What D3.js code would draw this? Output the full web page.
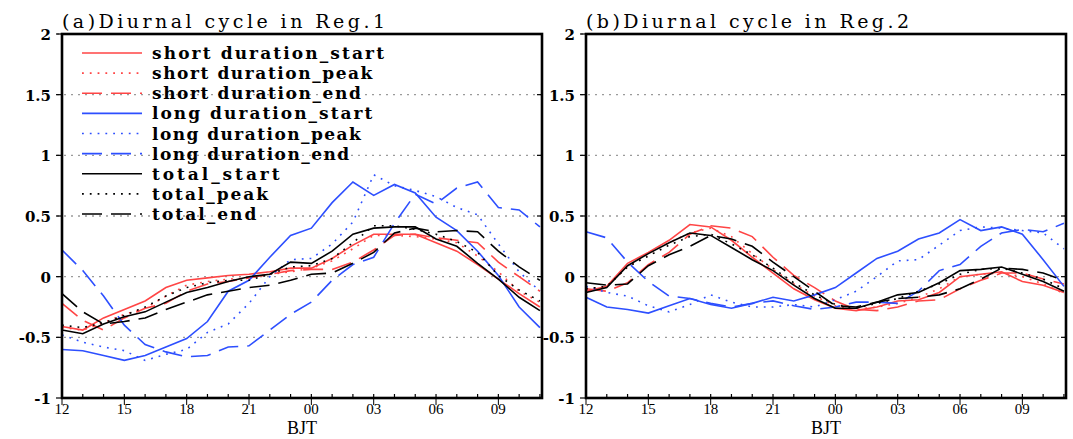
<!DOCTYPE html>
<html>
<head>
<meta charset="utf-8">
<script src="https://cdn.jsdelivr.net/npm/d3@7"></script>
<style>
  body { margin: 0; background: #fff; }
</style>
</head>
<body>
<div id="chart"></div>
<script>
// hours along the x axis (BJT), 12 .. 11 next day
var hours = d3.range(24);
var xTickPos = [0, 3, 6, 9, 12, 15, 18, 21];
var xTickLabels = ["12", "15", "18", "21", "00", "03", "06", "09"];
var yTicks = [-1, -0.5, 0, 0.5, 1, 1.5, 2];
var yTickLabels = ["-1", "-0.5", "0", "0.5", "1", "1.5", "2"];

var seriesNames = ["short duration_start", "short duration_peak", "short duration_end",
                   "long duration_start", "long duration_peak", "long duration_end",
                   "total_start", "total_peak", "total_end"];

// Reg.1
var reg1ShortStart = [-0.41,-0.44,-0.34,-0.27,-0.20,-0.09,-0.03,-0.01,0.01,0.02,0.04,0.07,0.07,0.15,0.26,0.35,0.35,0.35,0.28,0.21,0.10,-0.02,-0.14,-0.25];
var reg1ShortPeak  = [-0.42,-0.44,-0.38,-0.31,-0.26,-0.16,-0.07,-0.04,-0.02,-0.01,0.02,0.04,0.07,0.13,0.23,0.34,0.34,0.33,0.31,0.28,0.17,0.04,-0.12,-0.21];
var reg1ShortEnd   = [-0.22,-0.36,-0.44,-0.34,-0.26,-0.22,-0.12,-0.06,-0.04,-0.01,0.02,0.05,0.06,0.06,0.12,0.22,0.34,0.35,0.32,0.30,0.28,0.12,0.00,-0.12];
var reg1LongStart  = [-0.60,-0.61,-0.65,-0.69,-0.65,-0.58,-0.51,-0.37,-0.12,-0.03,0.16,0.34,0.40,0.61,0.78,0.67,0.76,0.69,0.49,0.38,0.21,0.01,-0.25,-0.42];
var reg1LongPeak   = [-0.48,-0.54,-0.58,-0.61,-0.69,-0.64,-0.60,-0.46,-0.39,-0.22,0.00,0.14,0.15,0.27,0.45,0.84,0.75,0.71,0.66,0.57,0.51,0.27,0.04,-0.12];
var reg1LongEnd    = [0.22,0.05,-0.16,-0.40,-0.56,-0.62,-0.66,-0.65,-0.58,-0.57,-0.44,-0.31,-0.21,-0.03,0.10,0.16,0.44,0.68,0.60,0.73,0.78,0.57,0.55,0.41];
var reg1TotalStart = [-0.44,-0.47,-0.39,-0.33,-0.29,-0.21,-0.13,-0.09,-0.04,0.00,0.02,0.12,0.11,0.21,0.35,0.40,0.41,0.41,0.31,0.25,0.11,-0.02,-0.17,-0.28];
var reg1TotalPeak  = [-0.40,-0.42,-0.38,-0.32,-0.25,-0.16,-0.09,-0.05,-0.03,-0.03,0.02,0.08,0.09,0.15,0.28,0.42,0.42,0.39,0.35,0.29,0.20,0.01,-0.11,-0.20];
var reg1TotalEnd   = [-0.14,-0.29,-0.39,-0.37,-0.34,-0.27,-0.21,-0.15,-0.12,-0.09,-0.07,-0.03,0.02,0.03,0.11,0.20,0.36,0.40,0.37,0.38,0.37,0.21,0.08,-0.03];

// Reg.2
var reg2ShortStart = [-0.12,-0.08,0.11,0.20,0.30,0.43,0.41,0.30,0.16,0.03,-0.10,-0.19,-0.26,-0.28,-0.25,-0.20,-0.19,-0.13,0.00,0.02,0.04,-0.04,-0.07,-0.13];
var reg2ShortPeak  = [-0.10,-0.08,0.08,0.19,0.28,0.36,0.40,0.33,0.19,0.06,-0.06,-0.16,-0.24,-0.27,-0.25,-0.22,-0.17,-0.10,0.00,0.02,0.03,0.00,-0.06,-0.14];
var reg2ShortEnd   = [-0.10,-0.12,-0.05,0.10,0.20,0.35,0.42,0.40,0.33,0.16,0.01,-0.09,-0.20,-0.27,-0.28,-0.25,-0.20,-0.19,-0.10,-0.03,0.03,0.03,-0.02,-0.06];
var reg2LongStart  = [-0.17,-0.25,-0.27,-0.30,-0.24,-0.18,-0.23,-0.26,-0.22,-0.17,-0.20,-0.15,-0.09,0.03,0.15,0.21,0.31,0.36,0.47,0.38,0.41,0.35,0.14,-0.08];
var reg2LongPeak   = [-0.08,-0.13,-0.16,-0.24,-0.29,-0.23,-0.15,-0.21,-0.25,-0.25,-0.23,-0.25,-0.19,-0.12,0.00,0.13,0.14,0.26,0.38,0.41,0.40,0.38,0.36,0.23];
var reg2LongEnd    = [0.37,0.32,0.12,-0.04,-0.16,-0.18,-0.22,-0.25,-0.22,-0.20,-0.24,-0.27,-0.25,-0.21,-0.21,-0.22,-0.12,0.05,0.10,0.25,0.36,0.39,0.37,0.44];
var reg2TotalStart = [-0.13,-0.09,0.09,0.19,0.28,0.36,0.34,0.24,0.14,0.05,-0.07,-0.18,-0.26,-0.26,-0.21,-0.15,-0.13,-0.05,0.05,0.06,0.08,0.02,-0.04,-0.12];
var reg2TotalPeak  = [-0.10,-0.08,0.08,0.17,0.26,0.33,0.35,0.27,0.18,0.07,-0.05,-0.15,-0.23,-0.26,-0.22,-0.18,-0.12,-0.06,0.02,0.06,0.07,0.03,-0.02,-0.10];
var reg2TotalEnd   = [-0.05,-0.07,-0.06,0.09,0.18,0.25,0.34,0.31,0.25,0.12,0.00,-0.12,-0.24,-0.25,-0.21,-0.18,-0.17,-0.15,-0.10,-0.02,0.07,0.06,0.03,-0.03];

var drawChart = function() {

    /* SETTINGS *****************************************************/
    const width = 1073, height = 439;
    const top = 34, bottom = 398, panelW = 480;
    const panelLeft = [62, 586];
    var red = "#ff4545", blue = "#2d4fff", black = "#000000";
    var colors = [red, red, red, blue, blue, blue, black, black, black];
    var dashes = [null, "1.8,6", "20,9", null, "1.8,6", "20,9", null, "1.8,6", "20,9"];
    var serif = "'DejaVu Serif', 'Liberation Serif', serif";

    var svg = d3.select("#chart").append("svg")
        .attr("width", width)
        .attr("height", height)
        .style("background-color", "#fff");

    var y = d3.scaleLinear().domain([-1, 2]).range([bottom, top]);

    var drawPanel = function(left, title, data, withLegend) {
        var x = d3.scaleLinear().domain([0, 23.1]).range([left, left + panelW]);
        var g = svg.append("g");

        // dotted grid
        g.selectAll(".grid").data(yTicks.filter(function(d) { return d > -1; }))
            .enter().append("line")
            .attr("x1", left - 5).attr("x2", left + panelW)
            .attr("y1", function(d) { return y(d); })
            .attr("y2", function(d) { return y(d); })
            .attr("stroke", "#9a9a9a")
            .attr("stroke-width", 1.3)
            .attr("stroke-dasharray", "2,5");

        // lines
        var line = d3.line()
            .x(function(d, i) { return x(hours[i]); })
            .y(function(d) { return y(d); });
        data.forEach(function(s, k) {
            g.append("path")
                .attr("d", line(s))
                .attr("fill", "none")
                .attr("stroke", colors[k])
                .attr("stroke-width", 1.6)
                .attr("stroke-dasharray", dashes[k]);
        });

        // frame
        g.append("rect")
            .attr("x", left).attr("y", top)
            .attr("width", panelW).attr("height", bottom - top)
            .attr("fill", "none")
            .attr("stroke", "#000")
            .attr("stroke-width", 2.6);

        // minor x ticks every hour
        g.selectAll(".minor").data(d3.range(1, 24))
            .enter().append("line")
            .attr("x1", function(d) { return x(d); })
            .attr("x2", function(d) { return x(d); })
            .attr("y1", bottom).attr("y2", bottom - 4)
            .attr("stroke", "#000").attr("stroke-width", 1.2);

        // major x ticks + labels
        g.selectAll(".major").data(xTickPos)
            .enter().append("line")
            .attr("x1", function(d) { return x(d); })
            .attr("x2", function(d) { return x(d); })
            .attr("y1", bottom).attr("y2", bottom + 7)
            .attr("stroke", "#000").attr("stroke-width", 1);
        g.selectAll(".xlab").data(xTickPos)
            .enter().append("text")
            .attr("x", function(d) { return x(d); })
            .attr("y", bottom + 16)
            .attr("text-anchor", "middle")
            .attr("font-family", "'Liberation Serif', serif")
            .attr("font-size", 15)
            .text(function(d, i) { return xTickLabels[i]; });

        // y ticks + labels
        g.selectAll(".ytick").data(yTicks)
            .enter().append("line")
            .attr("x1", left - 6).attr("x2", left)
            .attr("y1", function(d) { return y(d); })
            .attr("y2", function(d) { return y(d); })
            .attr("stroke", "#000").attr("stroke-width", 1.2);
        g.selectAll(".ytickr").data(yTicks)
            .enter().append("line")
            .attr("x1", left + panelW - 5).attr("x2", left + panelW)
            .attr("y1", function(d) { return y(d); })
            .attr("y2", function(d) { return y(d); })
            .attr("stroke", "#000").attr("stroke-width", 1.2);
        g.selectAll(".ylab").data(yTicks)
            .enter().append("text")
            .attr("x", left - 11)
            .attr("y", function(d) { return y(d) + 6; })
            .attr("text-anchor", "end")
            .attr("font-family", serif)
            .attr("font-weight", "bold")
            .attr("font-size", 15)
            .text(function(d, i) { return yTickLabels[i]; });

        // title and x label
        g.append("text")
            .attr("x", left).attr("y", 28)
            .attr("font-family", serif)
            .attr("font-size", 19)
            .attr("textLength", 323)
            .attr("lengthAdjust", "spacing")
            .text(title);
        g.append("text")
            .attr("x", left + panelW / 2).attr("y", 434)
            .attr("text-anchor", "middle")
            .attr("font-family", "'Liberation Serif', serif")
            .attr("font-size", 18)
            .text("BJT");

        if (withLegend) {
            var rowY = d3.scaleLinear().domain([0, 8]).range([53, 214]);
            var leg = g.append("g");
            seriesNames.forEach(function(name, k) {
                leg.append("line")
                    .attr("x1", 82).attr("x2", 142)
                    .attr("y1", rowY(k)).attr("y2", rowY(k))
                    .attr("stroke", colors[k])
                    .attr("stroke-width", 1.6)
                    .attr("stroke-dasharray", dashes[k]);
                leg.append("text")
                    .attr("x", 152).attr("y", rowY(k) + 6)
                    .attr("font-family", serif)
                    .attr("font-weight", "bold")
                    .attr("font-size", 17)
                    .attr("textLength", name.length * 11.6)
                    .attr("lengthAdjust", "spacing")
                    .text(name);
            });
        }
    };

    drawPanel(panelLeft[0], "(a)Diurnal cycle in Reg.1",
        [reg1ShortStart, reg1ShortPeak, reg1ShortEnd, reg1LongStart, reg1LongPeak, reg1LongEnd,
         reg1TotalStart, reg1TotalPeak, reg1TotalEnd], true);
    drawPanel(panelLeft[1], "(b)Diurnal cycle in Reg.2",
        [reg2ShortStart, reg2ShortPeak, reg2ShortEnd, reg2LongStart, reg2LongPeak, reg2LongEnd,
         reg2TotalStart, reg2TotalPeak, reg2TotalEnd], false);
};

window.addEventListener("load", drawChart);
</script>
</body>
</html>
